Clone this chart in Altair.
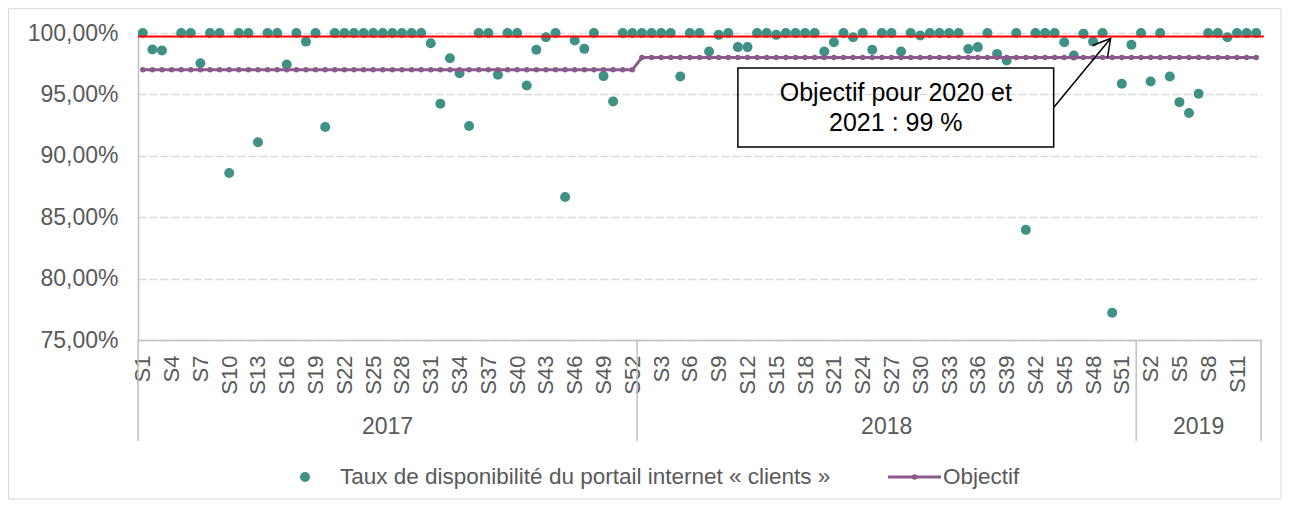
import json
import altair as alt
import pandas as pd

# ---------------- data ----------------
years = ["2017", "2018", "2019"]
weeks_per_year = [52, 52, 13]

taux_2017 = [100, 98.66, 98.58, None, 100, 100, 97.54, 100, 100, 88.6,
             100, 100, 91.1, 100, 100, 97.44, 100, 99.3, 100, 92.34,
             100, 100, 100, 100, 100, 100, 100, 100, 100, 100,
             99.17, 94.24, 97.95, 96.73, 92.42, 100, 100, 96.6, 100, 100,
             95.73, 98.63, 99.66, 100, 86.65, 99.39, 98.71, 100, 96.49, 94.43,
             100, 100]
taux_2018 = [100, 100, 100, 100, 96.46, 100, 100, 98.49, 99.85, 100,
             98.85, 98.85, 100, 100, 99.85, 100, 100, 100, 100, 98.5,
             99.25, 100, 99.66, 100, 98.63, 100, 100, 98.5, 100, 99.8,
             100, 100, 100, 100, 98.7, 98.85, 100, 98.3, 97.76, 100,
             83.97, 100, 100, 100, 99.25, 98.17, 99.93, 99.3, 100, 77.22,
             95.87, 99.04]
taux_2019 = [100, 96.05, 100, 96.46, 94.37, 93.48, 95.05, 100, 100, 99.66,
             100, 100, 100]
objectif_par_annee = [97.0, 98.0, 98.0]
ligne_rouge = 99.72

serie_label = "Taux de disponibilité du portail internet « clients »"
objectif_label = "Objectif"
annot_lines = ["Objectif pour 2020 et", "2021 : 99 %"]

TEAL = "#409185"
PURPLE = "#8B598B"
GREY_TXT = "#595959"
FONT = "Liberation Sans"

rows = []
i = 0
for year, n, taux, obj in zip(years, weeks_per_year,
                              [taux_2017, taux_2018, taux_2019],
                              objectif_par_annee):
    for w in range(n):
        rows.append({"idx": i, "year": year, "week": f"S{w + 1}",
                     "taux": taux[w], "objectif": obj})
        i += 1
df = pd.DataFrame(rows)
N = len(df)
week_labels = [r["week"] for r in rows]

# year groups
bounds = [-0.5]
for n in weeks_per_year:
    bounds.append(bounds[-1] + n)
year_df = pd.DataFrame({"year": years,
                        "mid": [(bounds[k] + bounds[k + 1]) / 2 for k in range(len(years))]})
sep_df = pd.DataFrame({"b": bounds})

xscale = alt.Scale(domain=[-0.5, N - 0.5], nice=False, zero=False)
yscale = alt.Scale(domain=[75, 100], nice=False, zero=False)

label_expr = json.dumps(week_labels, ensure_ascii=False) + "[datum.value]"

x_axis = alt.Axis(values=list(range(0, N, 3)), labelExpr=label_expr, labelAngle=270,
                  grid=False, ticks=False, domainColor="#bfbfbf", domainWidth=1.5,
                  labelFontSize=22, labelColor=GREY_TXT, labelPadding=15, title=None,
                  labelOverlap=False, labelFlush=False, labelBound=False, labelFont=FONT,
                  labelSeparation=0)
y_axis = alt.Axis(values=[75, 80, 85, 90, 95, 100],
                  labelExpr="replace(format(datum.value/100, '.2%'), '.', ',')",
                  grid=True, gridDash=[8, 3], gridColor="#d9d9d9", gridWidth=1.5,
                  domain=True, domainColor="#bfbfbf", domainWidth=1.5, ticks=False,
                  labelFontSize=23, labelColor=GREY_TXT, labelPadding=20, title=None,
                  labelFont=FONT, labelOverlap=False)


def X(field):
    return alt.X(field, scale=xscale, axis=x_axis)


def Y(field):
    return alt.Y(field, scale=yscale, axis=y_axis)


base = alt.Chart(df)

points = base.mark_circle(size=100, opacity=1, color=TEAL).encode(
    x=X("idx:Q"), y=Y("taux:Q"))

obj_line = base.mark_line(color=PURPLE, strokeWidth=3,
                          point=alt.OverlayMarkDef(size=30, filled=True, color=PURPLE, opacity=1)).encode(
    x=X("idx:Q"), y=Y("objectif:Q"))

red_df = pd.DataFrame({"x1": [-0.5], "x2": [N - 0.2], "y": [ligne_rouge]})
red = alt.Chart(red_df).mark_rule(color="#ff0000", strokeWidth=2).encode(
    x=X("x1:Q"), x2="x2:Q", y=Y("y:Q"))

seps = alt.Chart(sep_df).mark_rule(color="#bfbfbf", strokeWidth=1.5).encode(
    x=X("b:Q"), y=alt.value(307), y2=alt.value(408))

year_txt = alt.Chart(year_df).mark_text(fontSize=23, color=GREY_TXT, font=FONT,
                                        baseline="middle").encode(
    x=X("mid:Q"), y=alt.value(394), text="year:N")

# annotation (in data units)
box_df = pd.DataFrame({"x1": [62.0], "x2": [94.9], "y1": [97.15], "y2": [90.72]})
box = alt.Chart(box_df).mark_rect(fillOpacity=0, stroke="black", strokeWidth=1.5).encode(
    x=X("x1:Q"), x2="x2:Q", y=Y("y1:Q"), y2="y2:Q")

annot_df = pd.DataFrame({"t": annot_lines, "x": [78.45, 78.45], "y": [95.13, 92.64]})
annot = alt.Chart(annot_df).mark_text(fontSize=25, color="black", font=FONT,
                                      baseline="middle", align="center").encode(
    x=X("x:Q"), y=Y("y:Q"), text="t:N")

arrow_df = pd.DataFrame({"x1": [94.9], "y1": [93.94], "x2": [100.83], "y2": [99.55]})
arrow = alt.Chart(arrow_df).mark_rule(color="black", strokeWidth=1.5).encode(
    x=X("x1:Q"), y=Y("y1:Q"), x2="x2:Q", y2="y2:Q")
head = alt.Chart(arrow_df).mark_point(shape="M -0.5 0.866 L 0 0 L 0.5 0.866", size=1444,
                                      filled=False, stroke="black", strokeWidth=1.5,
                                      opacity=1, angle=39.3).encode(
    x=X("x2:Q"), y=Y("y2:Q"))

# legend (custom)
leg_df = pd.DataFrame({"a": [serie_label], "b": [objectif_label]})
leg_dot = alt.Chart(leg_df).mark_circle(size=100, opacity=1, color=TEAL).encode(
    x=alt.value(167), y=alt.value(444))
leg_t1 = alt.Chart(leg_df).mark_text(fontSize=22.5, color=GREY_TXT, font=FONT, align="left",
                                     baseline="middle").encode(
    x=alt.value(202), y=alt.value(444), text="a:N")
leg_line = alt.Chart(leg_df).mark_rule(color=PURPLE, strokeWidth=3).encode(
    x=alt.value(750), x2=alt.value(803), y=alt.value(444))
leg_pt = alt.Chart(leg_df).mark_circle(size=30, opacity=1, color=PURPLE).encode(
    x=alt.value(776.5), y=alt.value(444))
leg_t2 = alt.Chart(leg_df).mark_text(fontSize=22.5, color=GREY_TXT, font=FONT, align="left",
                                     baseline="middle").encode(
    x=alt.value(805), y=alt.value(444), text="b:N")

border = alt.Chart(leg_df).mark_rect(fillOpacity=0, stroke="#d9d9d9", strokeWidth=1).encode(
    x=alt.value(-129.5), x2=alt.value(1143), y=alt.value(-24.3), y2=alt.value(466))

chart = alt.layer(
    points, border, obj_line, red, seps, year_txt, box, annot, arrow, head,
    leg_dot, leg_t1, leg_line, leg_pt, leg_t2
).properties(width=1123, height=307, padding=0, background="white").configure_view(
    strokeWidth=0
).configure_axis(labelOverlap=False)

chart.save("out.html", embed_options={"renderer": "svg", "actions": False})
